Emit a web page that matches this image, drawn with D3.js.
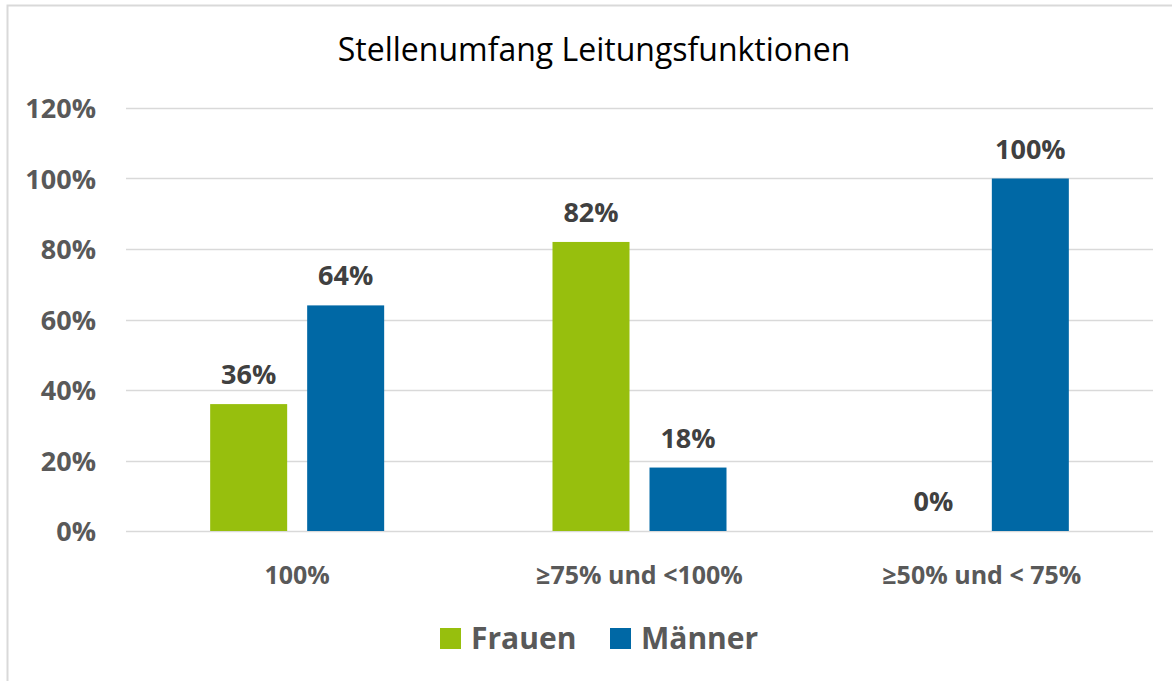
<!DOCTYPE html>
<html lang="de">
  <head>
    <meta charset="utf-8">
    <title>Stellenumfang Leitungsfunktionen</title>
    <script src="https://d3js.org/d3.v7.min.js"></script>
    <style>
      body { margin: 0; background: #fff; }
      text { font-family: "Open Sans", "DejaVu Sans", sans-serif; }
    </style>
  </head>
  <body>
    <div id="chart"></div>
    <script type="text/javascript">
      const categories = ["100%", "\u226575% und <100%", "\u226550% und < 75%"];
      const seriesNames = ["Frauen", "M\u00e4nner"];
      const frauen = [36, 82, 0];
      const maenner = [64, 18, 100];
      const yTicks = [0, 20, 40, 60, 80, 100, 120];
      const colors = ["#97bf0d", "#0068a5"];

      function drawChart() {
          let svgWidth = 1172,
              svgHeight = 681;

          let margin = { top: 108, right: 19, bottom: 150, left: 126 },
              width = svgWidth - margin.left - margin.right,
              height = svgHeight - margin.top - margin.bottom;

          let root = d3.select("#chart")
              .append("svg")
              .attr("width", svgWidth)
              .attr("height", svgHeight);

          // outer frame (only left/top edges are inside the picture)
          root.append("rect")
              .attr("x", 7.5)
              .attr("y", 5.5)
              .attr("width", svgWidth + 20)
              .attr("height", svgHeight + 20)
              .attr("fill", "none")
              .attr("stroke", "#d9d9d9")
              .attr("stroke-width", 2);

          root.append("text")
              .attr("x", 594)
              .attr("y", 61)
              .attr("text-anchor", "middle")
              .attr("font-size", 32)
              .attr("fill", "#000")
              .text("Stellenumfang Leitungsfunktionen");

          let svg = root.append("g")
              .attr("transform", "translate(" + margin.left + "," + margin.top + ")");

          let y = d3.scaleLinear()
              .domain([0, 120])
              .range([height, 0]);

          let x0 = d3.scaleBand()
              .domain(categories)
              .range([0, width]);

          let groupW = 174;
          let x1 = d3.scaleBand()
              .domain(seriesNames)
              .range([x0.bandwidth() / 2 - groupW / 2, x0.bandwidth() / 2 + groupW / 2])
              .paddingInner(20 / 97);

          // grid lines
          svg.append("g")
              .selectAll("line")
              .data(yTicks)
              .join("line")
              .attr("x1", 0)
              .attr("x2", width)
              .attr("y1", d => Math.round(y(d)) + 0.5)
              .attr("y2", d => Math.round(y(d)) + 0.5)
              .attr("stroke", "#d9d9d9")
              .attr("stroke-width", 1.5);

          // y labels
          svg.append("g")
              .selectAll("text")
              .data(yTicks)
              .join("text")
              .attr("x", -30)
              .attr("y", d => y(d) + 10)
              .attr("text-anchor", "end")
              .attr("font-size", 27)
              .attr("font-weight", "bold")
              .attr("fill", "#595959")
              .text(d => d + "%");

          // x labels
          svg.append("g")
              .selectAll("text")
              .data(categories)
              .join("text")
              .attr("x", d => x0(d) + x0.bandwidth() / 2)
              .attr("y", height + 53)
              .attr("text-anchor", "middle")
              .attr("font-size", 25)
              .attr("font-weight", "bold")
              .attr("fill", "#595959")
              .text(d => d);

          let rows = categories.map((c, i) => ({
              cat: c,
              values: [
                  { key: seriesNames[0], value: frauen[i], color: colors[0] },
                  { key: seriesNames[1], value: maenner[i], color: colors[1] }
              ]
          }));

          let groups = svg.selectAll("g.group")
              .data(rows)
              .join("g")
              .attr("class", "group")
              .attr("transform", d => "translate(" + x0(d.cat) + ",0)");

          groups.selectAll("rect")
              .data(d => d.values)
              .join("rect")
              .attr("x", d => x1(d.key))
              .attr("width", x1.bandwidth())
              .attr("y", d => y(d.value))
              .attr("height", d => height - y(d.value))
              .attr("fill", d => d.color);

          groups.selectAll("text")
              .data(d => d.values)
              .join("text")
              .attr("x", d => x1(d.key) + x1.bandwidth() / 2)
              .attr("y", d => y(d.value) - 20)
              .attr("text-anchor", "middle")
              .attr("font-size", 27)
              .attr("font-weight", "bold")
              .attr("fill", "#404040")
              .text(d => d.value + "%");

          // legend
          let legendX = [440, 610];
          let legend = root.append("g")
              .selectAll("g")
              .data(seriesNames)
              .join("g")
              .attr("transform", (d, i) => "translate(" + legendX[i] + ",628)");

          legend.append("rect")
              .attr("width", 21)
              .attr("height", 21)
              .attr("fill", (d, i) => colors[i]);

          legend.append("text")
              .attr("x", 31)
              .attr("y", 21)
              .attr("font-size", 30)
              .attr("font-weight", "bold")
              .attr("fill", "#595959")
              .text(d => d);
      }

      drawChart();
    </script>
  </body>
</html>
